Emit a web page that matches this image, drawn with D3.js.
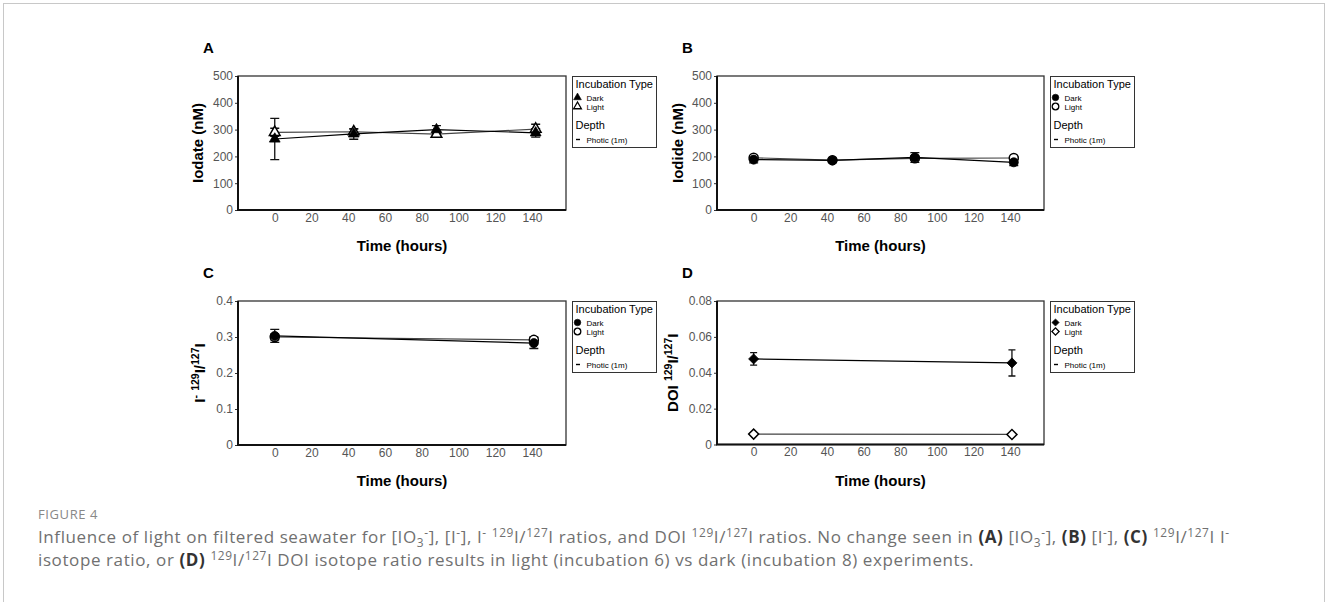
<!DOCTYPE html>
<html><head><meta charset="utf-8">
<script src="https://cdn.jsdelivr.net/npm/d3@7"></script>
<style>body{margin:0;background:#fff}svg{display:block}</style>
</head><body><svg id="fig" width="1328" height="602"></svg>
<script>
// Shared time axis (hours)
const timeTicks = [0, 20, 40, 60, 80, 100, 120, 140];

// Panel A: iodate (nM)
const iodateTimes = [0, 43, 88, 142];
const iodateDark = [265, 284, 300, 288];
const iodateDarkSd = [77, 20, 15, 16];
const iodateLight = [290, 292, 283, 302];
const iodateLightSd = [15, 10, 8, 18];

// Panel B: iodide (nM)
const iodideTimes = [0, 43, 88, 142];
const iodideDark = [188, 185, 196, 178];
const iodideDarkSd = [12, 8, 18, 12];
const iodideLight = [195, 186, 193, 194];
const iodideLightSd = [8, 5, 8, 5];

// Panel C: iodide 129I/127I
const ratioTimes = [0, 141];
const iodideRatioDark = [0.303, 0.283];
const iodideRatioDarkSd = [0.018, 0.015];
const iodideRatioLight = [0.300, 0.292];
const iodideRatioLightSd = [0.008, 0.008];

// Panel D: DOI 129I/127I
const doiRatioDark = [0.0477, 0.0455];
const doiRatioDarkSd = [0.0035, 0.0073];
const doiRatioLight = [0.0058, 0.0056];
const doiRatioLightSd = [0.0004, 0.0004];

const concTicks = [0, 100, 200, 300, 400, 500];
const ratioTicksC = [0, 0.1, 0.2, 0.3, 0.4];
const ratioTicksD = [0, 0.02, 0.04, 0.06, 0.08];

const incubationTypes = ["Dark", "Light"];
const depthLevels = ["Photic (1m)"];

const FONT = "'Liberation Sans', Arial, sans-serif";
const svg = d3.select("#fig");
svg.append("rect").attr("width", 1328).attr("height", 602).attr("fill", "#fff");
// figure frame
svg.append("rect").attr("x", 3.5).attr("y", 3.5).attr("width", 1321).attr("height", 700)
  .attr("fill", "none").attr("stroke", "#c8c8c8").attr("stroke-width", 1);

// write text made of normal / superscript / subscript / bold runs
function richText(sel, parts, baseSize) {
  let shift = 0;
  parts.forEach(([txt, kind]) => {
    const t = sel.append("tspan").text(txt);
    let target = 0;
    if (kind === "sup") { target = -baseSize * 0.38; t.attr("font-size", baseSize * 0.7); }
    else if (kind === "sub") { target = baseSize * 0.22; t.attr("font-size", baseSize * 0.7); }
    else if (kind === "b") { t.attr("font-weight", "bold").attr("fill", "#333"); }
    if (target !== shift) { t.attr("dy", target - shift); shift = target; }
  });
}

function symbolPath(shape, size) {
  if (shape === "triangle") return d3.symbol(d3.symbolTriangle, size)();
  if (shape === "circle") return d3.symbol(d3.symbolCircle, size)();
  return d3.symbol(d3.symbolSquare, size)();
}

function drawPanel(p) {
  const g = svg.append("g");
  const x = d3.scaleLinear().domain([-20, 158.5]).range([p.left, p.right]);
  const y = d3.scaleLinear().domain(p.yDomain).range([p.bottom, p.top]);

  // y axis
  g.append("g").attr("transform", `translate(${p.left},0)`)
    .call(d3.axisLeft(y).tickValues(p.yTicks).tickFormat(p.fmt).tickSize(3).tickPadding(2))
    .call(a => a.select(".domain").remove())
    .call(a => a.selectAll("line").attr("stroke", "#333"))
    .call(a => a.selectAll("text").attr("fill", "#555").style("font", `12px ${FONT}`));
  // x axis
  g.append("g").attr("transform", `translate(0,${p.bottom})`)
    .call(d3.axisBottom(x).tickValues(timeTicks).tickSize(0).tickPadding(3))
    .call(a => a.select(".domain").remove())
    .call(a => a.selectAll("text").attr("fill", "#555").style("font", `12px ${FONT}`));

  // panel frame
  g.append("rect").attr("x", p.left).attr("y", p.top)
    .attr("width", p.right - p.left).attr("height", p.bottom - p.top)
    .attr("fill", "none").attr("stroke", "#333").attr("stroke-width", 1.3);
  g.append("path").attr("d", `M${p.left},${p.top}V${p.bottom}H${p.right}`)
    .attr("fill", "none").attr("stroke", "#111").attr("stroke-width", 2);

  // series
  const series = [
    { name: "Light", t: p.times, v: p.light, sd: p.lightSd, filled: false, lineColor: "#444" },
    { name: "Dark", t: p.times, v: p.dark, sd: p.darkSd, filled: true, lineColor: "#000" }
  ];
  const line = d3.line().x(d => x(d[0])).y(d => y(d[1]));
  series.forEach(s => {
    const pts = s.t.map((t, i) => [t, s.v[i], s.sd[i]]);
    g.append("path").datum(pts).attr("d", line)
      .attr("fill", "none").attr("stroke", s.lineColor).attr("stroke-width", 1.2);
  });
  series.forEach(s => {
    const pts = s.t.map((t, i) => [t, s.v[i], s.sd[i]]);
    const eb = g.append("g").attr("stroke", "#111").attr("stroke-width", 1.3);
    pts.forEach(d => {
      const cx = x(d[0]), y1 = y(d[1] + d[2]), y2 = y(d[1] - d[2]);
      eb.append("path").attr("d",
        `M${cx},${y1}V${y2}M${cx - p.cap / 2},${y1}H${cx + p.cap / 2}M${cx - p.cap / 2},${y2}H${cx + p.cap / 2}`);
    });
  });
  series.forEach(s => {
    const pts = s.t.map((t, i) => [t, s.v[i]]);
    g.selectAll(null).data(pts).join("path")
      .attr("d", symbolPath(p.shape, p.symSize))
      .attr("transform", d => `translate(${x(d[0])},${y(d[1])})${p.shape === "diamond" ? " rotate(45)" : ""}`)
      .attr("fill", s.filled ? "#000" : "#fff")
      .attr("stroke", "#000").attr("stroke-width", s.filled ? 0.8 : 1.5);
  });

  // titles
  g.append("text").attr("x", p.left - 35).attr("y", p.top - 23.5)
    .attr("font-family", FONT).attr("font-weight", "bold").attr("font-size", 15)
    .text(p.letter);
  g.append("text").attr("x", (p.left + p.right) / 2).attr("y", p.bottom + 41)
    .attr("text-anchor", "middle").attr("font-family", FONT).attr("font-weight", "bold")
    .attr("font-size", 15).text("Time (hours)");
  const yt = g.append("text")
    .attr("transform", `translate(${p.left - p.titleOff},${(p.top + p.bottom) / 2}) rotate(-90)`)
    .attr("text-anchor", "middle").attr("font-family", FONT).attr("font-weight", "bold")
    .attr("font-size", 15);
  richText(yt, p.yTitle, 15);

  // legend
  const lx = p.right + 6.5, ly = p.top + 0.5;
  const lg = g.append("g").attr("font-family", FONT);
  lg.append("rect").attr("x", lx).attr("y", ly).attr("width", 84).attr("height", 71)
    .attr("fill", "#fff").attr("stroke", "#333").attr("stroke-width", 1);
  lg.append("text").attr("x", lx + 3).attr("y", ly + 11.5).attr("font-size", 11).text("Incubation Type");
  incubationTypes.forEach((lab, i) => {
    const sy = ly + 21 + i * 9;
    lg.append("path").attr("d", symbolPath(p.shape, p.shape === "circle" ? 34 : 26))
      .attr("transform", `translate(${lx + 5},${sy})${p.shape === "diamond" ? " rotate(45)" : ""}`)
      .attr("fill", lab === "Dark" ? "#000" : "#fff").attr("stroke", "#000")
      .attr("stroke-width", lab === "Dark" ? 0.6 : 1.3);
    lg.append("text").attr("x", lx + 14).attr("y", sy + 3).attr("font-size", 8).text(lab);
  });
  lg.append("text").attr("x", lx + 3).attr("y", ly + 52.5).attr("font-size", 11).text("Depth");
  depthLevels.forEach((lab, i) => {
    const sy = ly + 63 + i * 9;
    lg.append("path").attr("d", `M${lx + 3.5},${sy}H${lx + 7.5}`).attr("stroke", "#000").attr("stroke-width", 1.4);
    lg.append("text").attr("x", lx + 14).attr("y", sy + 3).attr("font-size", 8).text(lab);
  });
}

const fmtInt = d3.format("d");
const fmtC = d => d === 0 ? "0" : d3.format(".1f")(d);
const fmtD = d => d === 0 ? "0" : d3.format(".2f")(d);

drawPanel({ letter: "A", left: 238, right: 566, top: 76, bottom: 210,
  yDomain: [0, 500], yTicks: concTicks, fmt: fmtInt, titleOff: 35,
  yTitle: [["Iodate (nM)", "n"]], shape: "triangle", symSize: 50, cap: 9,
  times: iodateTimes, dark: iodateDark, darkSd: iodateDarkSd, light: iodateLight, lightSd: iodateLightSd });
drawPanel({ letter: "B", left: 717, right: 1044, top: 76, bottom: 210,
  yDomain: [0, 500], yTicks: concTicks, fmt: fmtInt, titleOff: 34,
  yTitle: [["Iodide (nM)", "n"]], shape: "circle", symSize: 64, cap: 9,
  times: iodideTimes, dark: iodideDark, darkSd: iodideDarkSd, light: iodideLight, lightSd: iodideLightSd });
drawPanel({ letter: "C", left: 238, right: 566, top: 301, bottom: 445,
  yDomain: [0, 0.4], yTicks: ratioTicksC, fmt: fmtC, titleOff: 33,
  yTitle: [["I", "n"], ["-", "sup"], [" ", "n"], ["129", "sup"], ["I/", "n"], ["127", "sup"], ["I", "n"]],
  shape: "circle", symSize: 64, cap: 9,
  times: ratioTimes, dark: iodideRatioDark, darkSd: iodideRatioDarkSd, light: iodideRatioLight, lightSd: iodideRatioLightSd });
drawPanel({ letter: "D", left: 717, right: 1044, top: 301, bottom: 444.5,
  yDomain: [0, 0.08], yTicks: ratioTicksD, fmt: fmtD, titleOff: 39,
  yTitle: [["DOI ", "n"], ["129", "sup"], ["I/", "n"], ["127", "sup"], ["I", "n"]],
  shape: "diamond", symSize: 50, cap: 7,
  times: ratioTimes, dark: doiRatioDark, darkSd: doiRatioDarkSd, light: doiRatioLight, lightSd: doiRatioLightSd });

// caption
const CAP = "'Open Sans', 'Noto Sans', sans-serif";
svg.append("text").attr("x", 38).attr("y", 519).attr("font-family", CAP)
  .attr("font-size", 13).attr("fill", "#888").attr("letter-spacing", 0.6).text("FIGURE 4");
const l1 = svg.append("text").attr("x", 38).attr("y", 543).attr("font-family", CAP)
  .attr("font-size", 17).attr("letter-spacing", 0.6).attr("fill", "#707070");
richText(l1, [
  ["Influence of light on filtered seawater for [IO", "n"], ["3", "sub"], ["-", "sup"], ["], [I", "n"], ["-", "sup"],
  ["], I", "n"], ["-", "sup"], [" ", "n"], ["129", "sup"], ["I/", "n"], ["127", "sup"],
  ["I ratios, and DOI ", "n"], ["129", "sup"], ["I/", "n"], ["127", "sup"],
  ["I ratios. No change seen in ", "n"], ["(A)", "b"], [" [IO", "n"], ["3", "sub"], ["-", "sup"], ["], ", "n"],
  ["(B)", "b"], [" [I", "n"], ["-", "sup"], ["], ", "n"], ["(C)", "b"], [" ", "n"], ["129", "sup"], ["I/", "n"],
  ["127", "sup"], ["I I", "n"], ["-", "sup"]
], 17);
const l2 = svg.append("text").attr("x", 38).attr("y", 566).attr("font-family", CAP)
  .attr("font-size", 17).attr("letter-spacing", 0.6).attr("fill", "#707070");
richText(l2, [
  ["isotope ratio, or ", "n"], ["(D)", "b"], [" ", "n"], ["129", "sup"], ["I/", "n"], ["127", "sup"],
  ["I DOI isotope ratio results in light (incubation 6) vs dark (incubation 8) experiments.", "n"]
], 17);
</script></body></html>
